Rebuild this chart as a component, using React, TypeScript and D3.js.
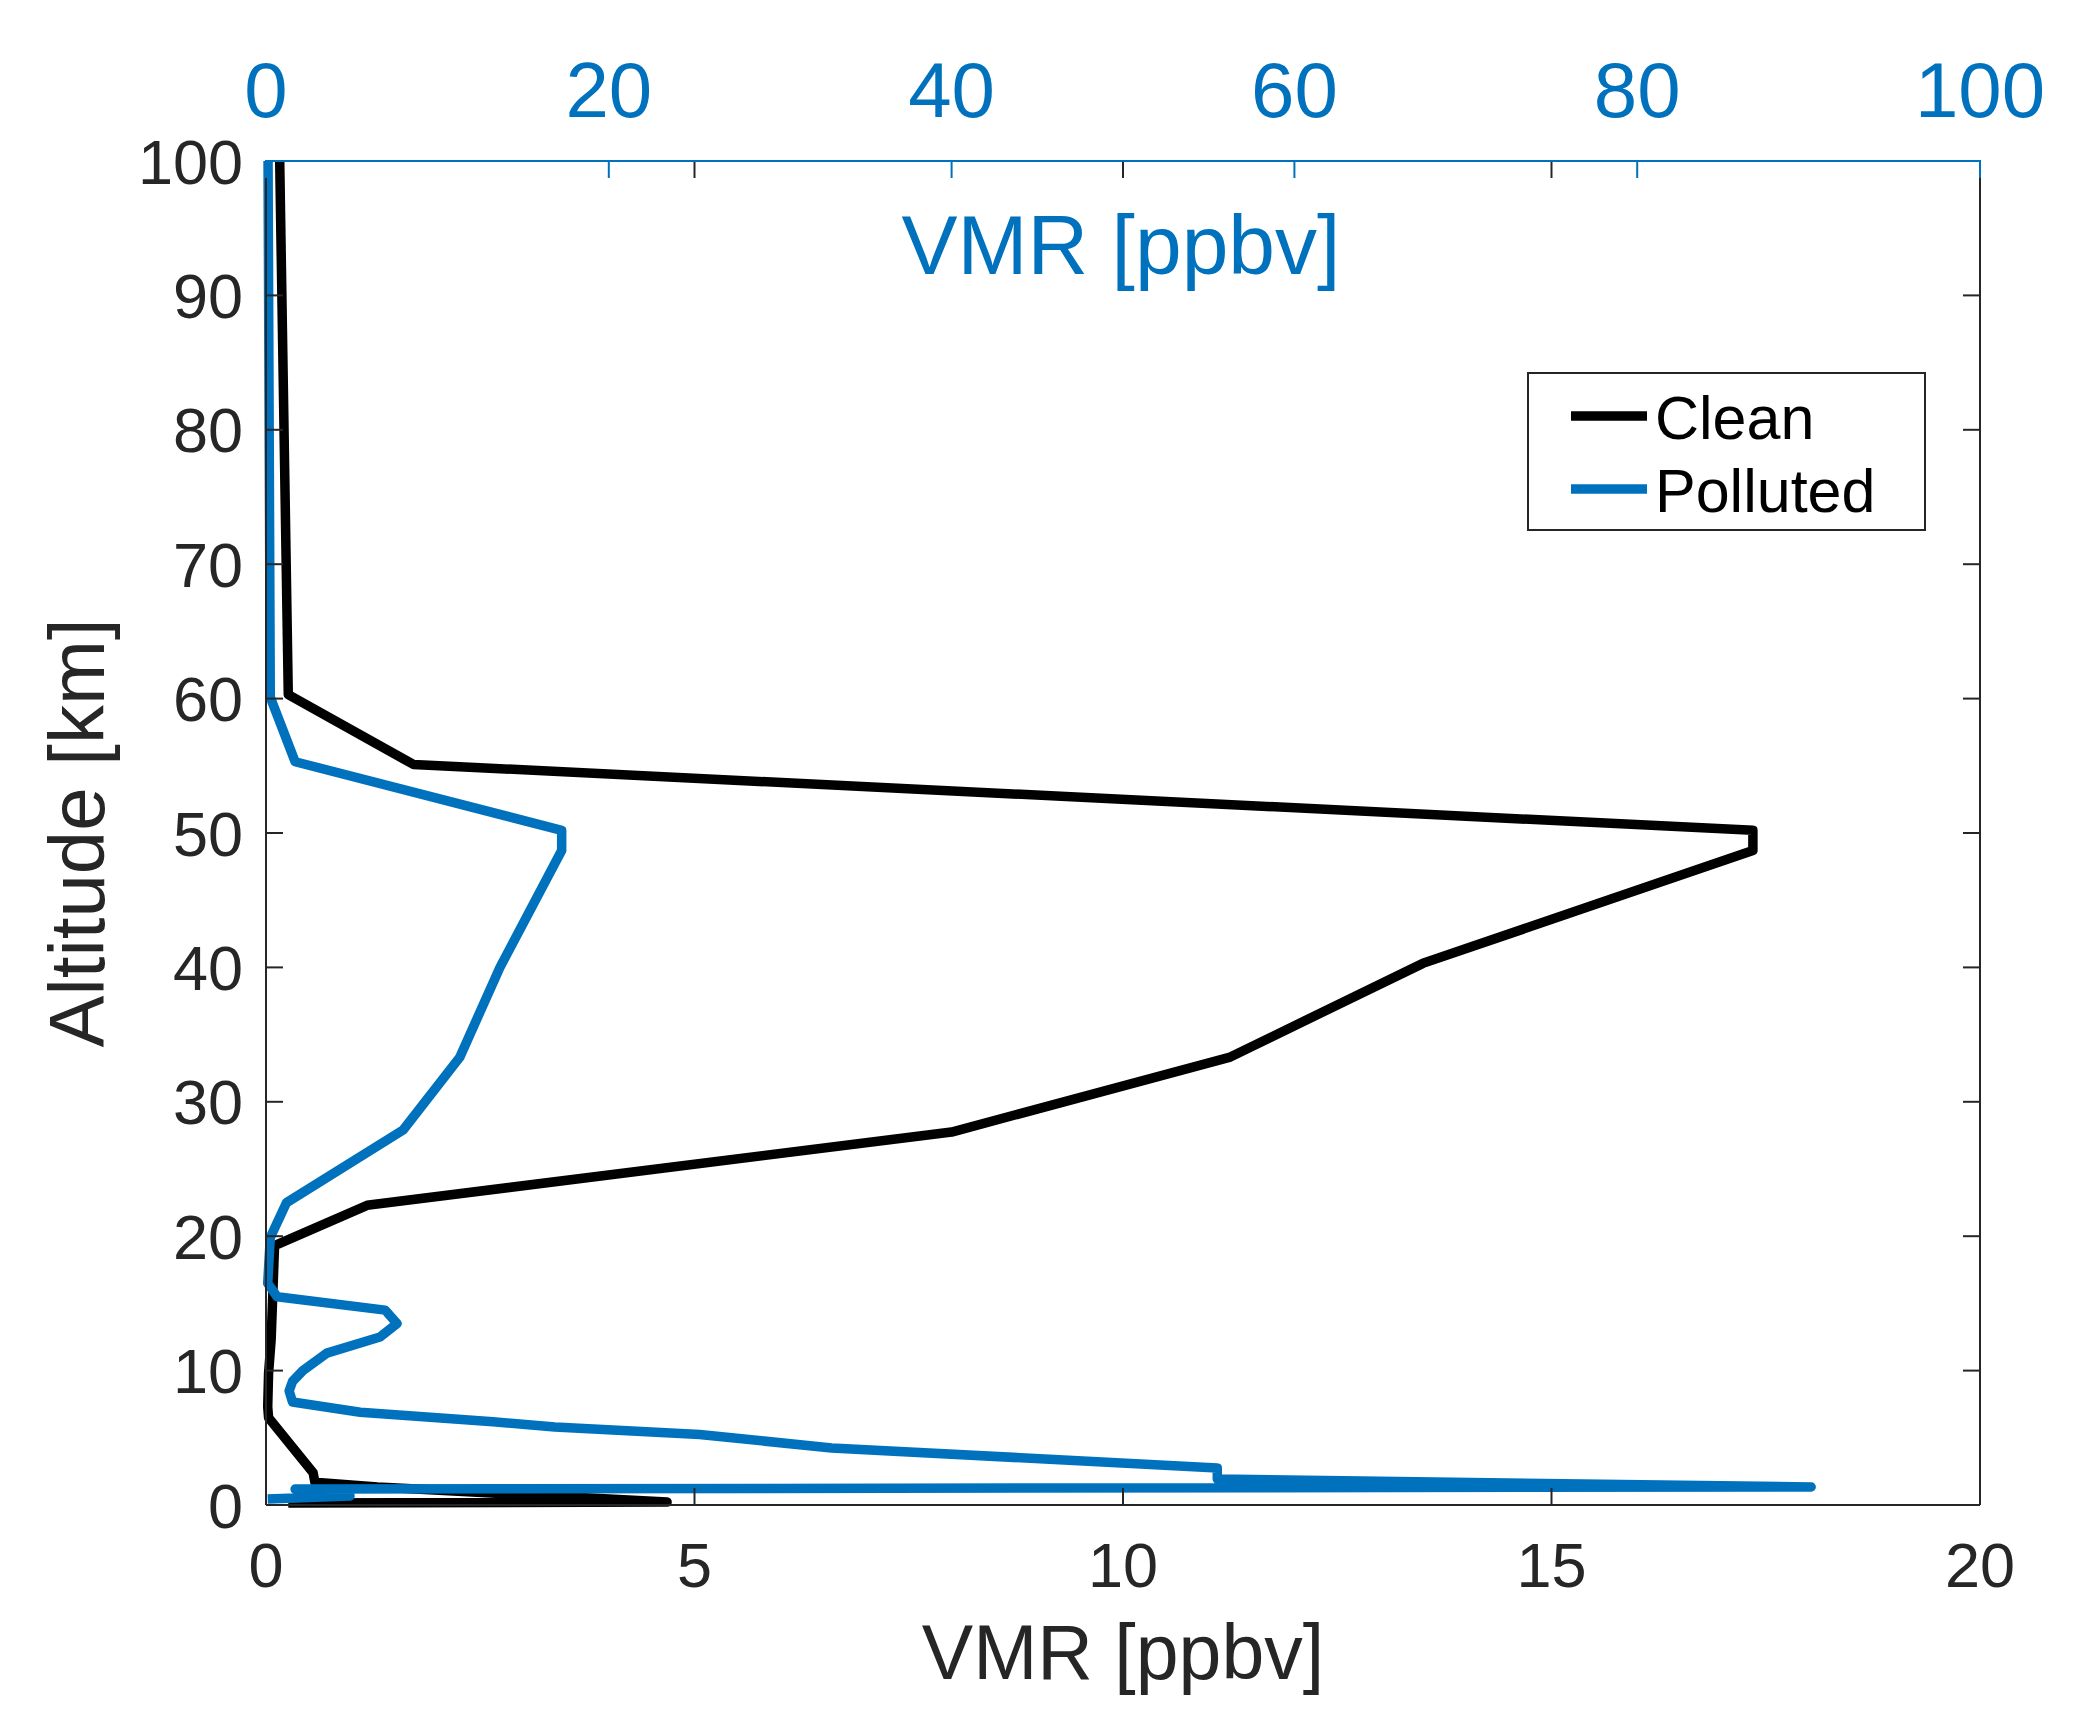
import { useEffect, useRef } from "react";
import * as d3 from "d3";

// Clean profile (bottom axis, ppbv), listed from the top of the atmosphere down
const cleanAlt = [100, 60.3, 55.1, 50.2, 48.7, 40.3, 33.3, 27.75, 22.3, 19.3, 12.3, 9.8, 7.3, 6.5, 2.4, 1.7, 1.34, 0.22, 0.15];
const cleanVmr = [0.16, 0.26, 1.72, 17.35, 17.35, 13.5, 11.24, 8.0, 1.18, 0.1, 0.06, 0.03, 0.02, 0.03, 0.55, 0.57, 1.3, 4.68, 0.26];

// Polluted profile (top axis, ppbv)
const pollutedAlt = [100, 60.1, 55.3, 50.2, 48.7, 40.0, 33.3, 27.9, 22.5, 19.9, 16.5, 15.5, 14.5, 13.5, 12.5, 11.3, 10.0, 9.2, 8.5, 7.66, 6.9, 6.2, 5.8, 5.25, 4.24, 2.76, 1.93, 1.34, 1.19, 0.67, 0.45];
const pollutedVmr = [0.12, 0.25, 1.7, 17.25, 17.25, 13.65, 11.3, 8.0, 1.2, 0.25, 0.1, 0.65, 6.95, 7.65, 6.65, 3.55, 2.15, 1.55, 1.35, 1.55, 5.5, 13.25, 16.85, 25.3, 33.0, 55.5, 55.5, 90.15, 1.7, 4.9, 0.1];

const bottomTicks = [0, 5, 10, 15, 20];
const topTicks = [0, 20, 40, 60, 80, 100];
const altTicks = [0, 10, 20, 30, 40, 50, 60, 70, 80, 90, 100];

const legendItems = [
  { label: "Clean", color: "#000000" },
  { label: "Polluted", color: "#0072BD" },
];

const FONT = "'Liberation Sans', Arial, Helvetica, sans-serif";
const AXIS = "#262626";
const BLUE = "#0072BD";
const LW = 9.5;

export default function App() {
  const svgRef = useRef<SVGSVGElement>(null);

  useEffect(() => {
    if (!svgRef.current) return;
    const svg = d3.select(svgRef.current);
    svg.selectAll("*").remove();

    const left = 266, right = 1980, top = 161, bottom = 1505;
    const tick = 17;

    const x = d3.scaleLinear().domain([0, 20]).range([left, right]);
    const xTop = d3.scaleLinear().domain([0, 100]).range([left, right]);
    const y = d3.scaleLinear().domain([0, 100]).range([bottom, top]);

    svg.append("rect").attr("width", 2076).attr("height", 1730).attr("fill", "#fff");

    // Lines
    const clean = cleanAlt.map((a, i) => [cleanVmr[i], a] as [number, number]);
    const polluted = pollutedAlt.map((a, i) => [pollutedVmr[i], a] as [number, number]);

    svg.append("path")
      .datum(clean)
      .attr("d", d3.line<[number, number]>().x(d => x(d[0])).y(d => y(d[1])))
      .attr("fill", "none")
      .attr("stroke", "#000")
      .attr("stroke-width", LW)
      .attr("stroke-linejoin", "round");

    svg.append("path")
      .datum(polluted)
      .attr("d", d3.line<[number, number]>().x(d => xTop(d[0])).y(d => y(d[1])))
      .attr("fill", "none")
      .attr("stroke", BLUE)
      .attr("stroke-width", LW)
      .attr("stroke-linejoin", "round");

    // Box
    const g = svg.append("g").attr("stroke", AXIS).attr("stroke-width", 2).attr("fill", "none");
    g.append("line").attr("x1", left).attr("x2", left).attr("y1", top).attr("y2", bottom);
    g.append("line").attr("x1", right).attr("x2", right).attr("y1", top).attr("y2", bottom);
    g.append("line").attr("x1", left).attr("x2", right).attr("y1", bottom).attr("y2", bottom);

    // Bottom ticks + mirrored at top
    g.selectAll(".bt").data(bottomTicks).enter().append("line")
      .attr("x1", d => x(d)).attr("x2", d => x(d))
      .attr("y1", bottom).attr("y2", bottom - tick);
    g.selectAll(".btt").data(bottomTicks).enter().append("line")
      .attr("x1", d => x(d)).attr("x2", d => x(d))
      .attr("y1", top).attr("y2", top + tick);

    // Altitude ticks left + right
    g.selectAll(".lt").data(altTicks).enter().append("line")
      .attr("x1", left).attr("x2", left + tick)
      .attr("y1", d => y(d)).attr("y2", d => y(d));
    g.selectAll(".rt").data(altTicks).enter().append("line")
      .attr("x1", right).attr("x2", right - tick)
      .attr("y1", d => y(d)).attr("y2", d => y(d));

    // Top (blue) axis
    const gt = svg.append("g").attr("stroke", BLUE).attr("stroke-width", 2);
    gt.append("line").attr("x1", left - 1).attr("x2", right + 1).attr("y1", top).attr("y2", top);
    gt.selectAll(".tt").data(topTicks).enter().append("line")
      .attr("x1", d => xTop(d)).attr("x2", d => xTop(d))
      .attr("y1", top).attr("y2", top + tick);

    // Tick labels
    svg.append("g").selectAll("text").data(bottomTicks).enter().append("text")
      .attr("x", d => x(d)).attr("y", 1587)
      .attr("text-anchor", "middle")
      .attr("font-family", FONT).attr("font-size", 63).attr("fill", AXIS)
      .text(d => d);

    svg.append("g").selectAll("text").data(altTicks).enter().append("text")
      .attr("x", 243).attr("y", d => y(d) + 22.5)
      .attr("text-anchor", "end")
      .attr("font-family", FONT).attr("font-size", 63).attr("fill", AXIS)
      .text(d => d);

    svg.append("g").selectAll("text").data(topTicks).enter().append("text")
      .attr("x", d => xTop(d)).attr("y", 117)
      .attr("text-anchor", "middle")
      .attr("font-family", FONT).attr("font-size", 78).attr("fill", BLUE)
      .text(d => d);

    // Axis labels
    svg.append("text")
      .attr("x", (left + right) / 2).attr("y", 1679)
      .attr("text-anchor", "middle")
      .attr("font-family", FONT).attr("font-size", 77).attr("fill", AXIS)
      .text("VMR [ppbv]");

    svg.append("text")
      .attr("x", 1121).attr("y", 274)
      .attr("text-anchor", "middle")
      .attr("font-family", FONT).attr("font-size", 84).attr("fill", BLUE)
      .text("VMR [ppbv]");

    svg.append("text")
      .attr("transform", `translate(104,${(top + bottom) / 2}) rotate(-90)`)
      .attr("text-anchor", "middle")
      .attr("font-family", FONT).attr("font-size", 78).attr("fill", AXIS)
      .text("Altitude [km]");

    // Legend
    const lg = svg.append("g");
    lg.append("rect")
      .attr("x", 1528).attr("y", 373).attr("width", 397).attr("height", 157)
      .attr("fill", "#fff").attr("stroke", AXIS).attr("stroke-width", 2);
    const rows = lg.selectAll(".row").data(legendItems).enter().append("g")
      .attr("transform", (_, i) => `translate(0,${416 + i * 73})`);
    rows.append("line")
      .attr("x1", 1571).attr("x2", 1647).attr("y1", 0).attr("y2", 0)
      .attr("stroke", d => d.color).attr("stroke-width", LW);
    rows.append("text")
      .attr("x", 1655).attr("y", 23)
      .attr("font-family", FONT).attr("font-size", 61).attr("fill", "#000")
      .text(d => d.label);
  }, []);

  return (
    <svg
      ref={svgRef}
      width={2076}
      height={1730}
      style={{ position: "absolute", left: 0, top: 0, display: "block" }}
    />
  );
}
